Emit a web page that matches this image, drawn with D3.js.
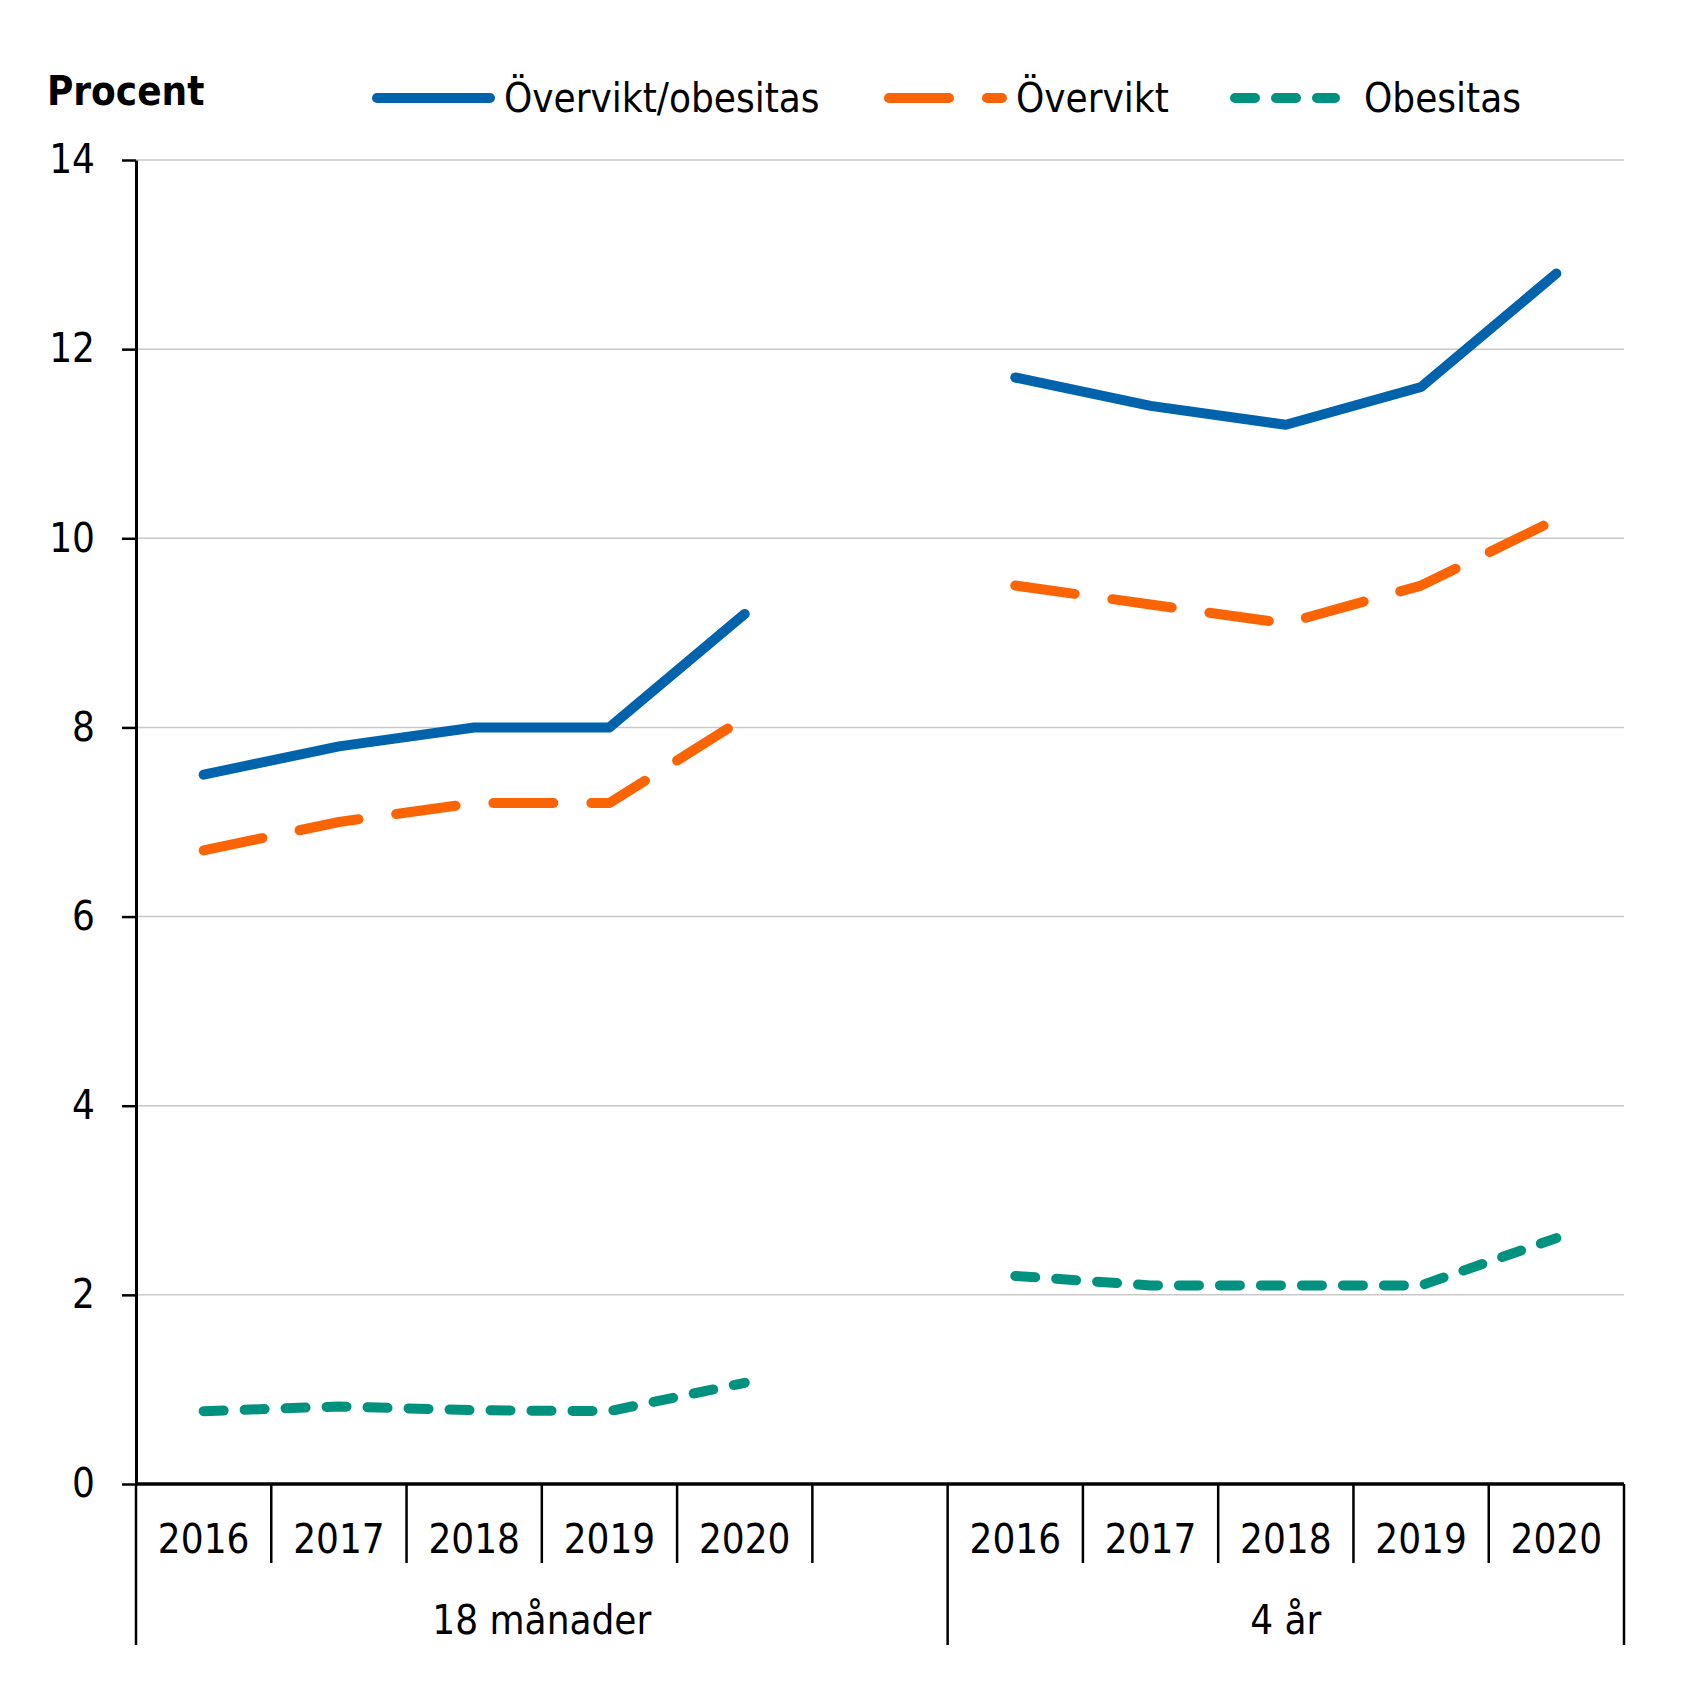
<!DOCTYPE html>
<html>
<head>
<meta charset="utf-8">
<script src="https://cdn.jsdelivr.net/npm/d3@7"></script>
<style>
  html, body { margin: 0; padding: 0; background: #fff; }
  text { font-family: "DejaVu Sans Condensed", "DejaVu Sans", sans-serif; fill: #000; }
</style>
</head>
<body>
<svg id="chart" width="1689" height="1689"></svg>
<script>
// ---- data ----
const years = ["2016", "2017", "2018", "2019", "2020"];
const groups = ["18 månader", "4 år"];
const seriesNames = ["Övervikt/obesitas", "Övervikt", "Obesitas"];
const overviktObesitas18 = [7.5, 7.8, 8.0, 8.0, 9.2];
const overviktObesitas4 = [11.7, 11.4, 11.2, 11.6, 12.8];
const overvikt18 = [6.7, 7.0, 7.2, 7.2, 8.1];
const overvikt4 = [9.5, 9.3, 9.1, 9.5, 10.2];
const obesitas18 = [0.77, 0.82, 0.78, 0.77, 1.07];
const obesitas4 = [2.2, 2.1, 2.1, 2.1, 2.6];
const yTicks = [0, 2, 4, 6, 8, 10, 12, 14];
const yLabel = "Procent";

(function () {
// ---- styles ----
const colors = ["#0063AC", "#FA6405", "#00927F"];
const dashes = [null, "60,38", "20,21"];
const lineW = 10;

const svg = d3.select("#chart");
svg.append("rect").attr("width", 1689).attr("height", 1689).attr("fill", "#fff");

const mLeft = 136, mRight = 1624, mTop = 160, mBottom = 1484;

// slots: group 0 has 5 years + 1 empty slot, group 1 has 5 years
const slots = [];
years.forEach(yr => slots.push("0|" + yr));
slots.push("0|blank");
years.forEach(yr => slots.push("1|" + yr));

const x = d3.scaleBand().domain(slots).range([mLeft, mRight]).padding(0);
const y = d3.scaleLinear().domain([0, 14]).range([mBottom, mTop]);

// gridlines
svg.append("g").selectAll("line").data(yTicks.filter(t => t > 0)).join("line")
  .attr("x1", mLeft).attr("x2", mRight)
  .attr("y1", d => y(d)).attr("y2", d => y(d))
  .attr("stroke", "#c8c8c8").attr("stroke-width", 1.5);

// y axis
const yAxis = d3.axisLeft(y).tickValues(yTicks).tickSize(14).tickSizeOuter(0).tickPadding(27)
  .tickFormat(d3.format("d"));
const gy = svg.append("g").attr("transform", `translate(${mLeft},0)`).call(yAxis);
gy.select(".domain").attr("stroke", "#000").attr("stroke-width", 3);
gy.selectAll(".tick line").attr("stroke", "#000").attr("stroke-width", 2.5);
gy.selectAll(".tick text").attr("font-size", 40).attr("font-family", "DejaVu Sans Condensed, DejaVu Sans, sans-serif").attr("fill", "#000");

// x axis line
svg.append("line").attr("x1", mLeft).attr("x2", mRight).attr("y1", mBottom).attr("y2", mBottom)
  .attr("stroke", "#000").attr("stroke-width", 3.5);

// category boundary lines
const bw = x.bandwidth();
const boundaries = slots.map(s => x(s)).concat([x(slots[slots.length - 1]) + bw]);
const groupEdges = [x("0|2016"), x("1|2016"), x("1|2020") + bw];
svg.append("g").selectAll("line").data(boundaries).join("line")
  .attr("x1", d => d).attr("x2", d => d)
  .attr("y1", mBottom)
  .attr("y2", d => groupEdges.some(g => Math.abs(g - d) < 0.5) ? 1645 : 1563)
  .attr("stroke", "#000").attr("stroke-width", 2.5);

// year labels
svg.append("g").selectAll("text").data(slots.filter(s => !s.endsWith("blank"))).join("text")
  .attr("x", d => x(d) + bw / 2).attr("y", 1553)
  .attr("text-anchor", "middle").attr("font-size", 40)
  .text(d => d.split("|")[1]);

// group labels
const groupSpans = [[x("0|2016"), x("1|2016")], [x("1|2016"), x("1|2020") + bw]];
svg.append("g").selectAll("text").data(groups).join("text")
  .attr("x", (d, i) => (groupSpans[i][0] + groupSpans[i][1]) / 2).attr("y", 1634)
  .attr("text-anchor", "middle").attr("font-size", 40)
  .text(d => d);

// lines
const seriesData = [
  [overviktObesitas18, overviktObesitas4],
  [overvikt18, overvikt4],
  [obesitas18, obesitas4]
];
const line = d3.line().x(d => d[0]).y(d => d[1]);
seriesData.forEach((pair, si) => {
  pair.forEach((vals, gi) => {
    const pts = vals.map((v, i) => [x(gi + "|" + years[i]) + bw / 2, y(v)]);
    const p = svg.append("path").attr("d", line(pts))
      .attr("fill", "none").attr("stroke", colors[si]).attr("stroke-width", lineW)
      .attr("stroke-linecap", "round").attr("stroke-linejoin", "round");
    if (dashes[si]) p.attr("stroke-dasharray", dashes[si]);
  });
});

// y label
svg.append("text").attr("x", 47).attr("y", 105).attr("font-size", 40).attr("font-weight", "bold")
  .text(yLabel);

// legend
const legendPos = [[377, 490, 504], [889, 1002, 1016], [1235, 1335, 1364]];
const legendY = 98;
seriesNames.forEach((name, i) => {
  const [x1, x2, tx] = legendPos[i];
  const l = svg.append("line").attr("x1", x1).attr("x2", x2).attr("y1", legendY).attr("y2", legendY)
    .attr("stroke", colors[i]).attr("stroke-width", lineW).attr("stroke-linecap", "round");
  if (dashes[i]) l.attr("stroke-dasharray", dashes[i]);
  svg.append("text").attr("x", tx).attr("y", 112).attr("font-size", 40).text(name);
});
})();
</script>
</body>
</html>
